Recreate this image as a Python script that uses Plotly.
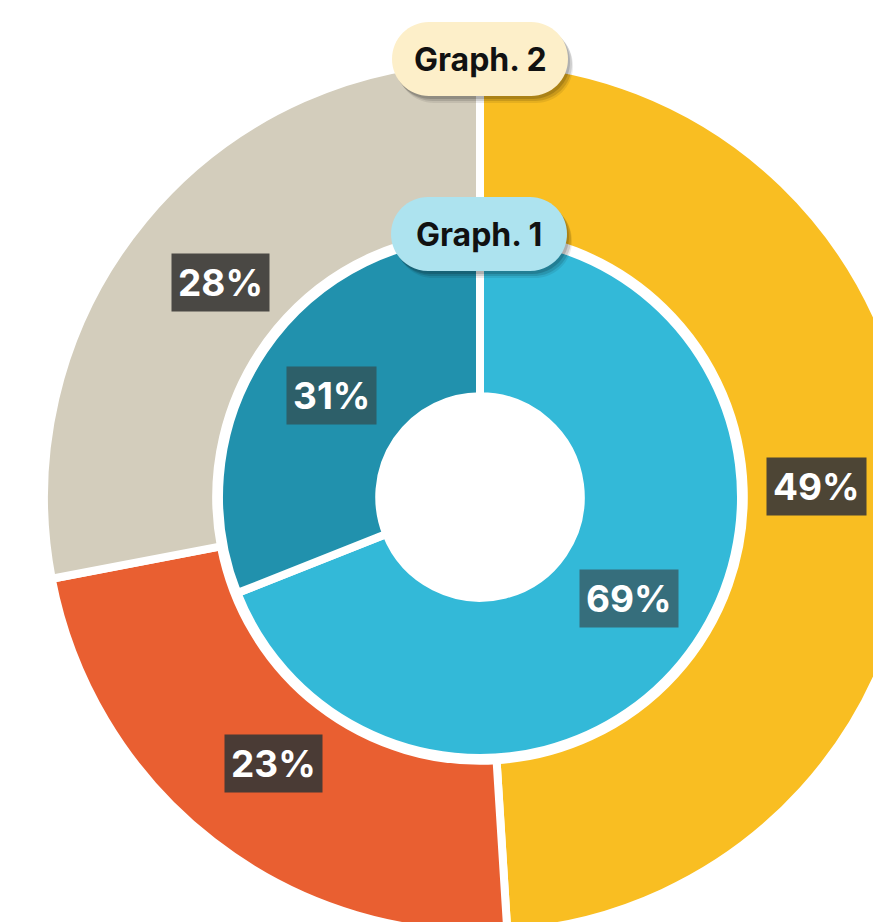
import math
import plotly.graph_objects as go

# ---- data ----
outer_labels = ["A", "B", "C"]
outer_values = [49, 23, 28]
outer_colors = ["#f9be22", "#e95f31", "#d3cdbc"]
outer_box_colors = ["#4d4535", "#4a3b35", "#4a4844"]

inner_labels = ["X", "Y"]
inner_values = [69, 31]
inner_colors = ["#33b9d8", "#2191ad"]
inner_box_colors = ["#366e7c", "#2d5f69"]

badge_texts = ["Graph. 2", "Graph. 1"]
badge_colors = ["#fdefc9", "#ade3ef"]

# ---- layout geometry (pixels) ----
W, H = 960, 994
CX, CY = 480, 497            # centre, from top-left
R_OUT, HOLE_OUT = 436, 0.605
R_IN, HOLE_IN = 261, 0.386
LW = 8
FONT = "Inter, Lato, sans-serif"


def dom(r):
    return dict(x=[(CX - r) / W, (CX + r) / W],
                y=[(H - CY - r) / H, (H - CY + r) / H])


fig = go.Figure()
fig.add_trace(go.Pie(labels=outer_labels, values=outer_values, hole=HOLE_OUT,
                     sort=False, direction="clockwise", rotation=0,
                     marker=dict(colors=outer_colors, line=dict(color="white", width=LW)),
                     textinfo="none", hoverinfo="label+percent", domain=dom(R_OUT),
                     showlegend=False))
fig.add_trace(go.Pie(labels=inner_labels, values=inner_values, hole=HOLE_IN,
                     sort=False, direction="clockwise", rotation=0,
                     marker=dict(colors=inner_colors, line=dict(color="white", width=LW)),
                     textinfo="none", hoverinfo="label+percent", domain=dom(R_IN),
                     showlegend=False))


def add_labels(values, boxes, r_lab):
    total = sum(values)
    cum = 0
    for v, bc in zip(values, boxes):
        mid = (cum + v / 2) / total * 2 * math.pi
        cum += v
        px = CX + r_lab * math.sin(mid)
        py = CY - r_lab * math.cos(mid)
        fig.add_annotation(x=px / W, y=(H - py) / H, xref="paper", yref="paper",
                           text="<b>%d%%</b>" % round(v / total * 100), showarrow=False,
                           font=dict(family=FONT, size=37, color="white"),
                           bgcolor=bc, borderpad=6, xanchor="center", yanchor="middle")


add_labels(outer_values, outer_box_colors, 337)
add_labels(inner_values, inner_box_colors, 180)


def pill(hw, hh):
    k = 0.5523 * hh
    a = hw - hh
    return (f"M {-a},{-hh} L {a},{-hh} C {a + k},{-hh} {hw},{-k} {hw},0 "
            f"C {hw},{k} {a + k},{hh} {a},{hh} L {-a},{hh} "
            f"C {-a - k},{hh} {-hw},{k} {-hw},0 C {-hw},{-k} {-a - k},{-hh} {-a},{-hh} Z")


badge_centres = [(480, 59), (479, 234)]
for (bx, by), txt, col in zip(badge_centres, badge_texts, badge_colors):
    for dx, dy, op in [(5, 7, 0.08), (4, 5, 0.12), (2, 3, 0.15)]:
        fig.add_shape(type="path", xref="paper", yref="paper",
                      xsizemode="pixel", ysizemode="pixel",
                      xanchor=(bx + dx) / W, yanchor=(H - by - dy) / H,
                      path=pill(88, 37), fillcolor="rgba(0,0,0,%g)" % op,
                      line=dict(width=0), layer="above")
    fig.add_shape(type="path", xref="paper", yref="paper",
                  xsizemode="pixel", ysizemode="pixel",
                  xanchor=bx / W, yanchor=(H - by) / H,
                  path=pill(88, 37), fillcolor=col,
                  line=dict(width=0), layer="above")
    fig.add_annotation(x=bx / W, y=(H - by) / H, xref="paper", yref="paper",
                       text="<b>%s</b>" % txt, showarrow=False,
                       font=dict(family=FONT, size=32, color="#111111"),
                       xanchor="center", yanchor="middle")

fig.update_layout(width=W, height=H, margin=dict(l=0, r=0, t=0, b=0),
                  paper_bgcolor="white", plot_bgcolor="white", showlegend=False)

fig.write_html("out.html",
               post_script="document.body.style.margin='0';document.body.style.overflow='hidden';")
